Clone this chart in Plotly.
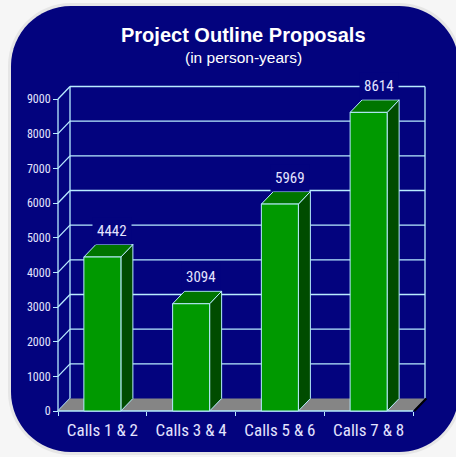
import plotly.graph_objects as go

# ---- data ----
categories = ["Calls 1 & 2", "Calls 3 & 4", "Calls 5 & 6", "Calls 7 & 8"]
values = [4442, 3094, 5969, 8614]
y_ticks = [0, 1000, 2000, 3000, 4000, 5000, 6000, 7000, 8000, 9000]
title_text = "Project Outline Proposals"
subtitle_text = "(in person-years)"

# ---- layout constants (pixels) ----
W, H = 456, 457
FX0 = 58.0        # front plane x of left edge (category -0.5)
PXU = 88.75       # px per category
FY0 = 411.0       # front plane y of value 0
PPV = 312.0 / 9000  # px per unit value
DXPX, DYPX = 12.0, 12.5   # depth offset in px

NAVY = "#03037e"
LINE = "#b9ecff"
TXT = "#e4e4ff"
NARROW = "Liberation Sans Narrow, Arial Narrow, Roboto Condensed, DejaVu Sans Condensed, sans-serif"


def xd(px):
    return -0.5 + (px - FX0) / PXU


def yd(py):
    return (FY0 - py) / PPV


dx = DXPX / PXU
dy = DYPX / PPV
ncat = len(categories)
xl, xr = -0.5, ncat - 0.5
vmax = y_ticks[-1]
half = 0.2085

fig = go.Figure()

# back wall grid + left wall diagonals + wall edges
gx, gy = [], []
for v in y_ticks:
    if v > 0:
        gx += [xl + dx, xr + dx, None]
        gy += [v + dy, v + dy, None]
    gx += [xl, xl + dx, None]
    gy += [v, v + dy, None]
gx += [xl + dx, xl + dx, None, xr + dx, xr + dx, None, xl, xl, None]
gy += [dy, vmax + dy, None, dy, vmax + dy, None, 0, vmax, None]
fig.add_trace(go.Scatter(x=gx, y=gy, mode="lines", line=dict(color=LINE, width=1.3),
                         hoverinfo="skip", showlegend=False))

# floor
fig.add_trace(go.Scatter(x=[xl, xr, xr + dx, xl + dx, xl], y=[0, 0, dy, dy, 0],
                         mode="lines", fill="toself", fillcolor="#858585",
                         line=dict(width=0), hoverinfo="skip", showlegend=False))
# floor right edge shadow
fig.add_trace(go.Scatter(x=[xr + 0.015, xr + dx + 0.015], y=[0, dy], mode="lines",
                         line=dict(color="#000000", width=2), hoverinfo="skip", showlegend=False))
# floor front edge
fig.add_trace(go.Scatter(x=[xl, xr], y=[0, 0], mode="lines",
                         line=dict(color=LINE, width=1.3), hoverinfo="skip", showlegend=False))

# bars
for i, v in enumerate(values):
    x0, x1 = i - half, i + half
    # side
    fig.add_trace(go.Scatter(x=[x1, x1 + dx, x1 + dx, x1, x1], y=[0, dy, v + dy, v, 0],
                             mode="lines", fill="toself", fillcolor="#004c00",
                             line=dict(color=LINE, width=1), hoverinfo="skip", showlegend=False))
    # top
    fig.add_trace(go.Scatter(x=[x0, x1, x1 + dx, x0 + dx, x0], y=[v, v, v + dy, v + dy, v],
                             mode="lines", fill="toself", fillcolor="#007500",
                             line=dict(color=LINE, width=1), hoverinfo="skip", showlegend=False))
    # front
    fig.add_trace(go.Scatter(x=[x0, x1, x1, x0, x0], y=[0, 0, v, v, 0],
                             mode="lines", fill="toself", fillcolor="#009900",
                             line=dict(color=LINE, width=1), hoverinfo="skip", showlegend=False))
    fig.add_annotation(x=i, y=v + dy, xref="x", yref="y", text=str(v), showarrow=False,
                       xshift=10, yshift=14, yanchor="middle", bgcolor=NAVY, borderpad=4,
                       font=dict(family=NARROW, size=15, color=TXT))

# dummy trace for the category axis
fig.add_trace(go.Scatter(x=[0, ncat - 1], y=[0, 0], xaxis="x2", mode="markers",
                         marker=dict(opacity=0), hoverinfo="skip", showlegend=False))


# rounded rectangle path in paper coordinates
def rrect(x0, y0, x1, y1, r):
    k = 0.5523 * r

    def P(px, py):
        return f"{px / W:.5f},{1 - py / H:.5f}"
    return (f"M {P(x0 + r, y0)} L {P(x1 - r, y0)} "
            f"C {P(x1 - r + k, y0)} {P(x1, y0 + r - k)} {P(x1, y0 + r)} "
            f"L {P(x1, y1 - r)} "
            f"C {P(x1, y1 - r + k)} {P(x1 - r + k, y1)} {P(x1 - r, y1)} "
            f"L {P(x0 + r, y1)} "
            f"C {P(x0 + r - k, y1)} {P(x0, y1 - r + k)} {P(x0, y1 - r)} "
            f"L {P(x0, y0 + r)} "
            f"C {P(x0, y0 + r - k)} {P(x0 + r - k, y0)} {P(x0 + r, y0)} Z")


shapes = [
    dict(type="path", xref="paper", yref="paper", layer="below",
         path=rrect(8, 3, 462, 455, 63), fillcolor="#e6e6e6", line=dict(width=0)),
    dict(type="path", xref="paper", yref="paper", layer="below",
         path=rrect(11, 6, 459, 452, 60), fillcolor=NAVY, line=dict(width=0)),
]

# domain in pixels
DL, DR, DT, DB = 50, 436, 76, 418
x_range = [xd(DL), xd(DR)]
y_range = [yd(DB), yd(DT)]

fig.update_layout(
    width=W, height=H, margin=dict(l=0, r=0, t=0, b=0),
    paper_bgcolor="#f6f6f6", plot_bgcolor="rgba(0,0,0,0)",
    shapes=shapes,
    xaxis=dict(domain=[DL / W, DR / W], range=x_range, anchor="free", position=1 - FY0 / H,
               tickvals=[xl + k for k in range(ncat + 1)], ticks="outside", ticklen=4,
               tickcolor=LINE, tickwidth=1.3, showticklabels=False, showgrid=False,
               zeroline=False, showline=False, fixedrange=True),
    xaxis2=dict(domain=[DL / W, DR / W], range=x_range, overlaying="x", anchor="free",
                position=1 - FY0 / H, side="bottom",
                tickvals=list(range(ncat)), ticktext=categories, ticks="",
                tickfont=dict(family=NARROW, size=17, color=TXT), ticklabelstandoff=7,
                showgrid=False, zeroline=False, showline=False, fixedrange=True),
    yaxis=dict(domain=[1 - DB / H, 1 - DT / H], range=y_range, anchor="free",
               position=FX0 / W, tickvals=y_ticks, ticks="outside", ticklen=5,
               tickcolor=LINE, tickwidth=1.3,
               tickfont=dict(family=NARROW, size=12, color=TXT),
               showgrid=False, zeroline=False, showline=False, fixedrange=True),
    annotations=list(fig.layout.annotations) + [
        dict(x=243 / W, y=1 - 35 / H, xref="paper", yref="paper", text=f"<b>{title_text}</b>",
             showarrow=False, yanchor="middle",
             font=dict(family="Liberation Sans, Arial, sans-serif", size=20, color="#ffffff")),
        dict(x=243 / W, y=1 - 57 / H, xref="paper", yref="paper", text=subtitle_text,
             showarrow=False, yanchor="middle",
             font=dict(family="Liberation Sans, Arial, sans-serif", size=15.5, color="#ffffff")),
    ],
)

fig.write_html("out.html", config={"displayModeBar": False},
               post_script="document.body.style.margin='0';document.body.style.overflow='hidden';")
